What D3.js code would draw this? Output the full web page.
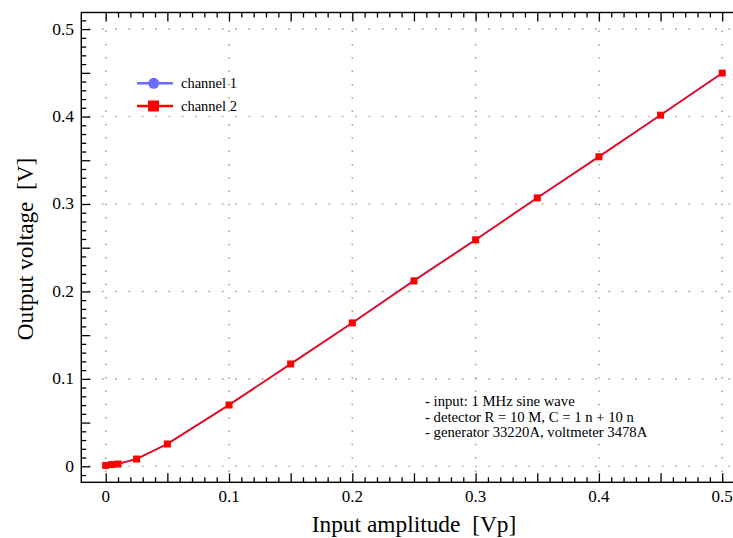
<!DOCTYPE html>
<html>
<head>
<meta charset="utf-8">
<script src="https://cdn.jsdelivr.net/npm/d3@7"></script>
<style>
  body { margin: 0; background: #fff; }
  svg { display: block; font-family: "Liberation Serif", "Times New Roman", serif; }
</style>
</head>
<body>
<div id="chart"></div>
<script>
// Input amplitude [Vp]
const inputAmp = [0, 0.005, 0.01, 0.025, 0.05, 0.1, 0.15, 0.2, 0.25, 0.3, 0.35, 0.4, 0.45, 0.5]
// Output voltage [V]
const channel1 = [0.001, 0.002, 0.0027, 0.0084, 0.0257, 0.0703, 0.1172, 0.1643, 0.2128, 0.2593, 0.3072, 0.3543, 0.4018, 0.4499]
const channel2 = [0.001, 0.002, 0.0026, 0.0083, 0.0255, 0.0701, 0.117, 0.164, 0.212, 0.259, 0.307, 0.354, 0.4016, 0.4497]
const xTickLabels = [0, 0.1, 0.2, 0.3, 0.4, 0.5]
const yTickLabels = [0, 0.1, 0.2, 0.3, 0.4, 0.5]
const notes = [
  "- input: 1 MHz sine wave",
  "- detector R = 10 M, C = 1 n + 10 n",
  "- generator 33220A, voltmeter 3478A"
]

const width = 733, height = 538
const blue = "#6b6bff", red = "#ff0000", gridColor = "#a9a982"

const svg = d3.select("#chart").append("svg").attr("width", width).attr("height", height)

// Scales: domain includes the frame padding
const x = d3.scaleLinear().domain([-0.0198, 0.52]).range([81.3, 81.3 + 0.5398 * 1233])
const y = d3.scaleLinear().domain([-0.0183, 0.519]).range([482.3, 12.5])

const frameL = x(-0.0198), frameR = x(0.52), frameT = y(0.519), frameB = y(-0.0183)

// Grid (dotted)
const grid = svg.append("g")
  .attr("stroke", gridColor).attr("stroke-width", 1.6)
  .attr("stroke-dasharray", "1.5 11.83")
grid.selectAll(".gx").data(xTickLabels).enter().append("line")
  .attr("x1", d => x(d)).attr("x2", d => x(d))
  .attr("y1", frameB).attr("y2", frameT)
  .attr("stroke-dashoffset", 3)
grid.selectAll(".gy").data(yTickLabels).enter().append("line")
  .attr("y1", d => y(d)).attr("y2", d => y(d))
  .attr("x1", frameL).attr("x2", frameR)
  .attr("stroke-dashoffset", 6)

// Frame
svg.append("rect")
  .attr("x", frameL).attr("y", frameT)
  .attr("width", frameR - frameL).attr("height", frameB - frameT)
  .attr("fill", "none").attr("stroke", "#000").attr("stroke-width", 1.4)

// Ticks every 0.01, longer at multiples of 0.05
const xt = d3.range(0, 51).map(i => i / 100)
const yt = d3.range(-1, 52).map(i => i / 100)
const isMajor = v => Math.abs(Math.round(v * 20) - v * 20) < 1e-6
const tickLen = v => isMajor(v) ? 9 : 5

const gb = svg.append("g").attr("transform", `translate(0,${frameB})`)
  .call(d3.axisBottom(x).tickValues(xt).tickSizeInner(0).tickSizeOuter(0).tickFormat(""))
gb.select(".domain").remove()
gb.selectAll(".tick line").attr("y2", d => -tickLen(d)).attr("stroke-width", 1.3)

const ga = svg.append("g").attr("transform", `translate(0,${frameT})`)
  .call(d3.axisTop(x).tickValues(xt).tickSizeInner(0).tickSizeOuter(0).tickFormat(""))
ga.select(".domain").remove()
ga.selectAll(".tick line").attr("y2", d => tickLen(d)).attr("stroke-width", 1.3)

const gl = svg.append("g").attr("transform", `translate(${frameL},0)`)
  .call(d3.axisLeft(y).tickValues(yt).tickSizeInner(0).tickSizeOuter(0).tickFormat(""))
gl.select(".domain").remove()
gl.selectAll(".tick line").attr("x2", d => tickLen(d)).attr("stroke-width", 1.3)

// Tick labels
svg.append("g").selectAll("text").data(xTickLabels).enter().append("text")
  .attr("x", d => x(d)).attr("y", 502)
  .attr("text-anchor", "middle").attr("font-size", 17)
  .text(d => d === 0 ? "0" : d3.format(".1f")(d))
svg.append("g").selectAll("text").data(yTickLabels).enter().append("text")
  .attr("x", 74).attr("y", d => y(d) + 5.5)
  .attr("text-anchor", "end").attr("font-size", 17.5)
  .text(d => d === 0 ? "0" : d3.format(".1f")(d))

// Axis titles
svg.append("text")
  .attr("x", 414).attr("y", 532)
  .attr("text-anchor", "middle").attr("font-size", 23.4)
  .attr("xml:space", "preserve")
  .text("Input amplitude  [Vp]")
svg.append("text")
  .attr("transform", "translate(33,249) rotate(-90)")
  .attr("text-anchor", "middle").attr("font-size", 23.2)
  .attr("xml:space", "preserve")
  .text("Output voltage  [V]")

// Data lines
const line = d3.line().x((d, i) => x(inputAmp[i])).y(d => y(d))
svg.append("path").datum(channel1)
  .attr("fill", "none").attr("stroke", blue).attr("stroke-width", 1.8).attr("d", line)
svg.append("g").attr("fill", blue).selectAll("circle").data(channel1).enter().append("circle")
  .attr("cx", (d, i) => x(inputAmp[i])).attr("cy", d => y(d)).attr("r", 3)
svg.append("path").datum(channel2)
  .attr("fill", "none").attr("stroke", red).attr("stroke-width", 1.6).attr("d", line)
svg.append("g").attr("fill", red).selectAll("rect").data(channel2).enter().append("rect")
  .attr("x", (d, i) => x(inputAmp[i]) - 3.5).attr("y", d => y(d) - 3.5)
  .attr("width", 7).attr("height", 7)

// Legend
const legend = svg.append("g").attr("font-size", 14.5)
const lg1 = legend.append("g").attr("transform", "translate(137,83.3)")
lg1.append("line").attr("x1", 0).attr("x2", 36).attr("stroke", blue).attr("stroke-width", 2.5)
lg1.append("circle").attr("cx", 16.7).attr("r", 5.5).attr("fill", blue)
lg1.append("text").attr("x", 44).attr("y", 4.5).text("channel 1")
const lg2 = legend.append("g").attr("transform", "translate(137,106)")
lg2.append("line").attr("x1", 0).attr("x2", 36).attr("stroke", red).attr("stroke-width", 2.5)
lg2.append("rect").attr("x", 11).attr("y", -5.5).attr("width", 11).attr("height", 11).attr("fill", red)
lg2.append("text").attr("x", 44).attr("y", 4.5).text("channel 2")

// Notes
svg.append("g").attr("font-size", 14.7).selectAll("text").data(notes).enter().append("text")
  .attr("x", 425).attr("y", (d, i) => 406 + i * 15.5)
  .text(d => d)
</script>
</body>
</html>
